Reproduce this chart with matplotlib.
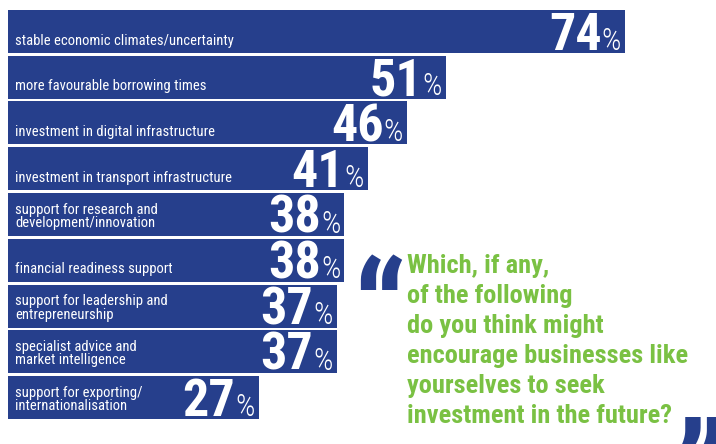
import matplotlib
matplotlib.use("Agg")
import matplotlib.pyplot as plt
from matplotlib import font_manager
import numpy as np

# data
labels = [
    "stable economic climates/uncertainty",
    "more favourable borrowing times",
    "investment in digital infrastructure",
    "investment in transport infrastructure",
    "support for research and\ndevelopment/innovation",
    "financial readiness support",
    "support for leadership and\nentrepreneurship",
    "specialist advice and\nmarket intelligence",
    "support for exporting/\ninternationalisation",
]
values = [74, 51, 46, 41, 38, 38, 37, 37, 27]
question = ["Which, if any,", "of the following", "do you think might",
            "encourage businesses like", "yourselves to seek",
            "investment in the future?"]

blue = "#263F8C"
green = "#7AC143"

# condensed font, with fallbacks
names = {f.name for f in font_manager.fontManager.ttflist}
narrow = next((n for n in ["Roboto Condensed", "Archivo Narrow", "PT Sans Narrow",
                           "Liberation Sans Narrow"] if n in names), "DejaVu Sans")
fam = [narrow, "DejaVu Sans"]

W, H = 716, 444
fig = plt.figure(figsize=(W / 100, H / 100), dpi=100)
ax = fig.add_axes([0, 0, 1, 1])
ax.axis("off")

# scale: px per percent, small stub so short bars keep room for labels
ppx = 7.8
stub = 40 / ppx
x0 = -stub - 8 / ppx
ax.set_xlim(x0, x0 + W / ppx)
row = 45.75
y_top = -31.5 / row
ax.set_ylim(y_top + H / row, y_top)

y = np.arange(len(values))
ax.barh(y, np.array(values) + stub, left=-stub, height=43 / row, color=blue)

fig.canvas.draw()
r = fig.canvas.get_renderer()

px = 1 / row  # one pixel in y data units
for i, (lab, v) in enumerate(zip(labels, values)):
    off = 2 if "\n" in lab else 9
    ax.text(-stub + 7 / ppx, i + off * px, lab, color="white", fontsize=10.5,
            family=fam, va="center", ha="left", linespacing=0.95)
    base = i + 0.47 - 3.5 * px
    pct = ax.text(v - 4 / ppx, base, "%", color="white", fontsize=22, family=fam,
                  fontweight="light", ha="right", va="baseline")
    wpx = pct.get_window_extent(r).width
    ax.text(v - (4 + wpx) / ppx, base, str(v), color="white", fontsize=37.5,
            family=fam, fontweight="bold", ha="right", va="baseline")

# quote text, one line at a time
for k, line in enumerate(question):
    fig.text(407 / W, 1 - (273 + 30 * k) / H, line, color=green, fontsize=19,
             family=fam, fontweight="bold", ha="left", va="baseline")
fig.text(352 / W, 1 - 361 / H, "\u201c", color=blue, fontsize=100, family=fam,
         fontweight="bold", ha="left", va="baseline")
fig.text(674 / W, 1 - 521 / H, "\u201d", color=blue, fontsize=100, family=fam,
         fontweight="bold", ha="left", va="baseline")

fig.savefig("out.png", dpi=100)
